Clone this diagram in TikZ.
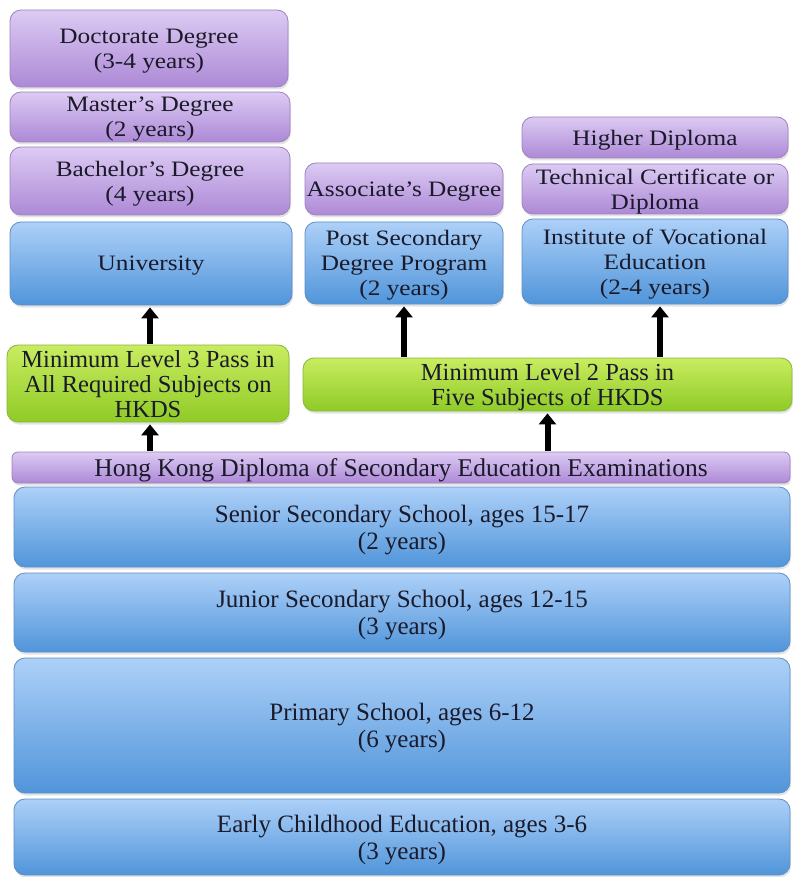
\documentclass[tikz,border=0pt]{standalone}
\usepackage{fontspec}
\setmainfont{Liberation Serif}
\newfontfamily\widefont[FakeStretch=1.15]{Liberation Serif}
\usetikzlibrary{arrows.meta,shadows}
\definecolor{ptop}{HTML}{DCCBF3}
\definecolor{pbot}{HTML}{AD89D6}
\definecolor{pedge}{HTML}{9C82BE}
\definecolor{btop}{HTML}{ADD0F8}
\definecolor{bbot}{HTML}{5095DA}
\definecolor{bedge}{HTML}{5E8FC4}
\definecolor{gtop}{HTML}{C9EC60}
\definecolor{gbot}{HTML}{8FCB26}
\definecolor{gedge}{HTML}{86B83A}
\definecolor{txt}{HTML}{1A1A2A}
\tikzset{
  box/.style={rounded corners=11pt, align=center, text=txt, inner sep=0pt,
    text depth=0pt,
    font=\widefont\fontsize{22}{25}\selectfont, line width=0.8pt,
    drop shadow={opacity=0.22, shadow xshift=1pt, shadow yshift=-2.5pt}},
  purp/.style={box, draw=pedge, top color=ptop, bottom color=pbot},
  blue/.style={box, draw=bedge, top color=btop, bottom color=bbot},
  green/.style={box, draw=gedge, top color=gtop, bottom color=gbot,
    font=\fontsize{24.5}{25}\selectfont},
  wide/.style={font=\fontsize{25}{27}\selectfont},
  arr/.style={line width=6pt, -{Triangle[width=17pt,length=11pt]}, black,
    shorten >=2pt, shorten <=1pt}
}
\begin{document}
\begin{tikzpicture}[x=1pt,y=-1pt]
\useasboundingbox (0,0) rectangle (792,877);
% left column
\node[purp, minimum width=278pt, minimum height=77pt] (doc) at (149,48.5) {Doctorate Degree\\(3-4 years)};
\node[purp, minimum width=280pt, minimum height=50pt] (mas) at (150,117) {Master’s Degree\\(2 years)};
\node[purp, minimum width=280pt, minimum height=68pt] (bac) at (150,181) {Bachelor’s Degree\\(4 years)};
\node[blue, minimum width=282pt, minimum height=83pt] (uni) at (151,263.5) {University};
% middle column
\node[purp, minimum width=198pt, minimum height=52pt] (ass) at (404,189) {Associate’s Degree};
\node[blue, minimum width=198pt, minimum height=82pt] (post) at (404,263) {Post Secondary\\Degree Program\\(2 years)};
% right column
\node[purp, minimum width=266pt, minimum height=41pt] (hd) at (655,137.5) {Higher Diploma};
\node[purp, minimum width=266pt, minimum height=50pt] (tc) at (655,189) {Technical Certificate or\\Diploma};
\node[blue, minimum width=266pt, minimum height=85pt] (inst) at (655,261.5) {Institute of Vocational\\Education\\(2-4 years)};
% green
\node[green, minimum width=282pt, minimum height=77pt] (g1) at (148,383.5) {Minimum Level 3 Pass in\\All Required Subjects on\\HKDS};
\node[green, minimum width=489pt, minimum height=53pt] (g2) at (547.5,384.5) {Minimum Level 2 Pass in\\Five Subjects of HKDS};
% bottom stack
\node[purp, minimum width=778pt, minimum height=31pt, rounded corners=6pt, font=\fontsize{25.5}{26}\selectfont] (hk) at (401,467.5) {Hong Kong Diploma of Secondary Education Examinations};
\node[blue, wide, minimum width=776pt, minimum height=80pt] (sen) at (402,527) {Senior Secondary School, ages 15-17\\(2 years)};
\node[blue, wide, minimum width=776pt, minimum height=79pt] (jun) at (402,612.5) {Junior Secondary School, ages 12-15\\(3 years)};
\node[blue, wide, minimum width=776pt, minimum height=135pt] (pri) at (402,725.5) {Primary School, ages 6-12\\(6 years)};
\node[blue, wide, minimum width=776pt, minimum height=76pt] (ear) at (402,837) {Early Childhood Education, ages 3-6\\(3 years)};
% arrows
\draw[arr] (g1.north -| 150,0) -- (uni.south -| 150,0);
\draw[arr] (hk.north -| 150,0) -- (g1.south -| 150,0);
\draw[arr] (g2.north -| post.south) -- (post.south);
\draw[arr] (g2.north -| 660,0) -- (inst.south -| 660,0);
\draw[arr] (hk.north -| g2.south) -- (g2.south);
\end{tikzpicture}
\end{document}
